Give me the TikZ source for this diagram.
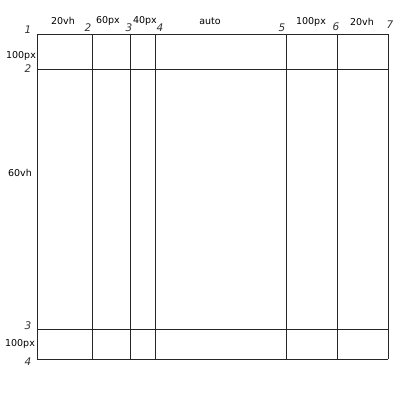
\documentclass[tikz,border=0pt]{standalone}
\usepackage{fontspec}
\setmainfont{DejaVu Sans}
\tikzset{
  gridline/.style={line width=0.8pt, black!85},
  size/.style={font=\fontsize{9.5}{10}\selectfont, inner sep=0pt},
  linenum/.style={font=\fontsize{10.5}{10}\selectfont\itshape, inner sep=0pt, black!80}
}
\begin{document}
\begin{tikzpicture}[x=1pt,y=-1pt]
  \useasboundingbox (0,0) rectangle (420,400);
  % column and row lines
  \foreach \i/\x in {1/37,2/92,3/130,4/155,5/286,6/337,7/388}
    \coordinate (c\i) at (\x,0);
  \foreach \i/\y in {1/34,2/69,3/329,4/359}
    \coordinate (r\i) at (0,\y);
  \foreach \i in {1,...,7}
    \draw[gridline] (c\i |- r1) -- (c\i |- r4);
  \foreach \i in {1,...,4}
    \draw[gridline] (c1 |- r\i) -- (c7 |- r\i);
  % column sizes
  \node[size] (w1) at (63,21) {20vh};
  \node[size] (w2) at (108,21) {60px};
  \node[size] (w3) at (145,21) {40px};
  \node[size] (w4) at (210,21) {auto};
  \node[size] (w5) at (311,22) {100px};
  \node[size] (w6) at (362,22) {20vh};
  % row sizes
  \node[size] (h1) at (21,56) {100px};
  \node[size] (h2) at (20,173) {60vh};
  \node[size] (h3) at (20,344) {100px};
  % line numbers
  \node[linenum] (n1) at (28,30) {1};
  \node[linenum] (n2) at (88,28) {2};
  \node[linenum] (n3) at (129,28) {3};
  \node[linenum] (n4) at (160,28) {4};
  \node[linenum] (n5) at (282,28) {5};
  \node[linenum] (n6) at (336,27) {6};
  \node[linenum] (n7) at (390,25) {7};
  \node[linenum] (m2) at (28,69) {2};
  \node[linenum] (m3) at (28,326) {3};
  \node[linenum] (m4) at (28,362) {4};
\end{tikzpicture}
\end{document}
